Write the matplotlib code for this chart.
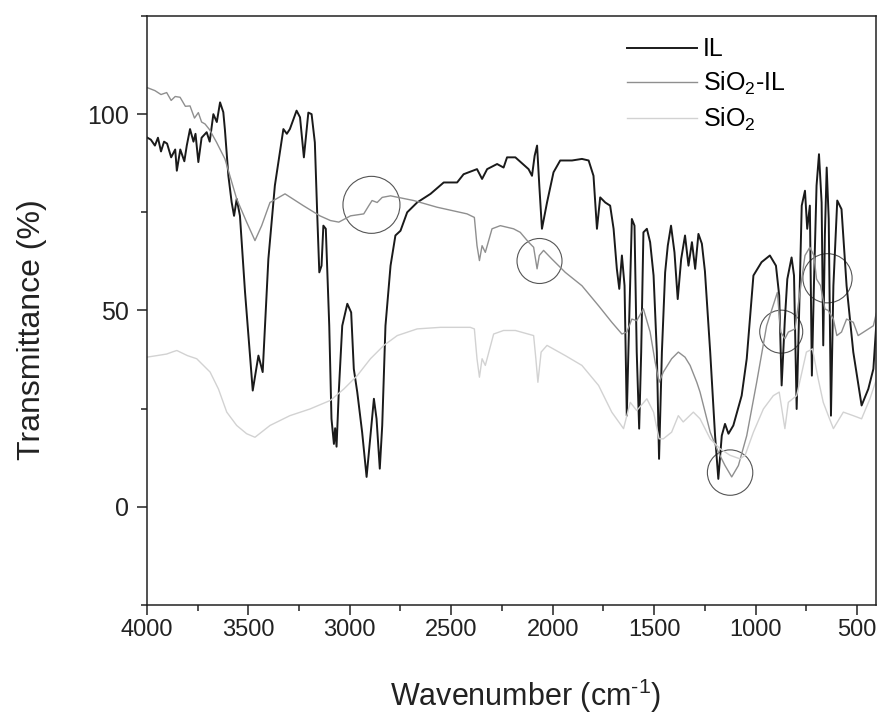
import matplotlib
matplotlib.use('Agg')
import matplotlib.pyplot as plt
from matplotlib.patches import Ellipse
from matplotlib.ticker import MultipleLocator

plt.rcParams['font.family'] = ['Liberation Sans', 'DejaVu Sans']
plt.rcParams['mathtext.fontset'] = 'custom'
plt.rcParams['mathtext.rm'] = 'Liberation Sans'
plt.rcParams['mathtext.it'] = 'Liberation Sans:italic'

# IL spectrum (wavenumber, transmittance)
il_wn = [4000, 3980, 3960, 3945, 3930, 3915, 3900, 3880, 3860, 3852, 3835, 3815, 3803,
         3787, 3770, 3760, 3746, 3730, 3705, 3690, 3672, 3655, 3639, 3623, 3615, 3598,
         3582, 3570, 3557, 3541, 3516, 3478, 3450, 3429, 3401, 3369, 3327, 3310, 3295,
         3262, 3245, 3226, 3204, 3188, 3172, 3160, 3150, 3139, 3130, 3118, 3101, 3090,
         3078, 3072, 3065, 3054, 3037, 3012, 2993, 2980, 2963, 2939, 2917, 2901, 2881,
         2868, 2852, 2840, 2824, 2799, 2775, 2750, 2717, 2668, 2602, 2537, 2471, 2439,
         2373, 2348, 2323, 2274, 2242, 2225, 2184, 2119, 2102, 2089, 2077, 2066, 2053,
         2028, 1996, 1963, 1905, 1856, 1823, 1799, 1782, 1766, 1741, 1717, 1700, 1684,
         1672, 1659, 1646, 1635, 1623, 1610, 1597, 1586, 1574, 1564, 1553, 1536, 1520,
         1503, 1487, 1476, 1462, 1446, 1433, 1417, 1400, 1384, 1367, 1348, 1331, 1314,
         1298, 1282, 1265, 1250, 1224, 1200, 1184, 1167, 1151, 1134, 1110, 1069, 1044,
         1011, 971, 930, 900, 884, 872, 856, 844, 823, 811, 798, 785, 773, 757, 746,
         733, 723, 713, 700, 688, 675, 667, 659, 650, 640, 629, 617, 598, 577, 552,
         519, 478, 445, 420, 404]
il_t = [94.1, 93.5, 92, 94, 90.5, 93, 92.5, 89, 91, 85.6, 91, 88, 92,
        96.2, 93, 95, 87.8, 94, 95.4, 93, 100, 98, 103, 100.5, 96, 84.3,
        77.6, 74.1, 78.4, 74.1, 54.7, 29.6, 38.5, 34.3, 63.1, 81.8, 96.2, 95, 96.2,
        100.9, 99.2, 89, 100.4, 100, 92.8, 74.1, 59.7, 61.4, 71.6, 70.8, 46.1, 22.4,
        16, 20, 15.3, 29.3, 46.1, 51.7, 49.5, 35.1, 29.2, 19, 7.6, 16.5, 27.5,
        22.4, 9.7, 20.7, 46.1, 61.4, 69.1, 70.3, 75, 77.5, 79.7, 82.6, 82.6, 84.7,
        86, 83.5, 86, 87.3, 86.4, 89, 89, 86, 84.3, 89.4, 92, 81.8, 70.8,
        77.5, 85.2, 88.2, 88.2, 88.6, 88.2, 84.3, 70.8, 78.8, 77.5, 76.7, 70.8, 60.6,
        55.5, 64, 56.3, 23.2, 47.8, 73.3, 71.6, 39.4, 19.9, 39.4, 69.9, 70.8, 67.4,
        58.9, 39.4, 12.2, 39.4, 59.7, 66.5, 71.6, 64.8, 52.9, 63.1, 69.1, 61.4, 67.4,
        60.6, 69.5, 67, 60, 39.4, 18.1, 7.1, 18.1, 21.1, 18.6, 20.7, 28.3, 37.7,
        58.9, 62.3, 64, 61.4, 53.8, 30.9, 47.8, 58, 63.5, 58.9, 24.9, 51.2, 76.7, 80.5, 70.8,
        76.7, 33.4, 56.3, 81.8, 89.8, 77.5, 41.1, 69.1, 86.4, 73.3, 23.2, 56.3, 78, 75.8, 56.3,
        39.4, 25.8, 30, 35.1, 47.8]

# SiO2-IL spectrum
sil_wn = [4000, 3960, 3930, 3902, 3880, 3860, 3836, 3810, 3787, 3765, 3746, 3730, 3713,
          3690, 3656, 3615, 3557, 3508, 3467, 3434, 3393, 3319, 3229, 3147, 3095, 3054,
          2996, 2931, 2906, 2890, 2865, 2840, 2799, 2685, 2570, 2422, 2386, 2373, 2361,
          2348, 2332, 2299, 2258, 2193, 2160, 2119, 2094, 2077, 2066, 2045, 2004, 1938,
          1856, 1774, 1709, 1659, 1635, 1610, 1586, 1553, 1520, 1495, 1476, 1455, 1414,
          1381, 1348, 1323, 1290, 1274, 1249, 1224, 1184, 1151, 1118, 1085, 1044, 995,
          946, 893, 877, 856, 839, 806, 782, 757, 733, 713, 700, 680, 659, 643, 617,
          600, 577, 552, 519, 495, 420, 404]
sil_t = [106.8, 106, 105, 105.5, 103.5, 104.5, 104.3, 102, 102.1, 99, 100.4, 98, 97.5,
         96, 92.8, 88.6, 78.4, 72.5, 67.8, 71.6, 77.5, 79.7, 76.7, 74.1, 72.9, 72.5,
         74.1, 74.6, 76.7, 78, 77.5, 78.8, 79.2, 78, 76.3, 74.6, 73.7, 66.5, 62.7,
         66.5, 64.8, 70.8, 71.6, 70.8, 69.9, 67.4, 66.1, 60.6, 64, 65.3, 63.1, 59.7,
         56.3, 51.2, 47, 44, 44.5, 47.8, 47.4, 50.4, 44.5, 36.8, 31.7, 34.3, 37.7,
         39.4, 38.1, 36, 31.7, 29.2, 24.1, 19, 13.9, 10.5, 7.6, 10.5, 18.1, 31.7,
         46.1, 54.6, 44.5, 42.8, 44.5, 45.3, 54.6, 64, 66.1, 64, 58, 56.3, 50.4, 50, 47.8,
         43.6, 44.5, 47.8, 47, 43.6, 46.1, 49.6]

# SiO2 spectrum
si_wn = [4000, 3950, 3902, 3870, 3852, 3800, 3754, 3688, 3647, 3606, 3557, 3508, 3467,
         3393, 3295, 3196, 3095, 3029, 2963, 2898, 2832, 2766, 2668, 2553, 2406, 2386,
         2373, 2361, 2348, 2332, 2291, 2242, 2184, 2094, 2083, 2073, 2057, 2028, 1938,
         1856, 1774, 1709, 1651, 1618, 1586, 1536, 1503, 1476, 1455, 1414, 1381, 1357,
         1307, 1274, 1224, 1176, 1126, 1077, 1052, 1011, 962, 913, 884, 856, 839, 798,
         750, 720, 692, 667, 636, 617, 568, 519, 478, 437, 404]
si_t = [38.1, 38.5, 38.9, 39.5, 39.8, 38.5, 37.7, 34.3, 30, 24.1, 20.7, 18.6, 17.7,
        20.7, 23.2, 24.9, 27.1, 30, 33.4, 37.7, 41.1, 43.6, 45.3, 45.7, 45.7, 45.3,
        37.7, 33, 37.7, 36, 44, 44.9, 44.9, 43.6, 37.7, 31.7, 39.4, 41.1, 38.5,
        36, 30.9, 24.1, 19.9, 26.6, 24.5, 27.5, 24.1, 17.3, 17.3, 19, 23.2, 21.6,
        24.1, 22.4, 17.3, 14.8, 13.1, 12.2, 13.1, 19, 24.9, 28.3, 29.2, 19.9, 26.6, 28.3,
        39.4, 40.2, 32.6, 26.6, 22.4, 19.9, 24.1, 23.2, 22.4, 27.5, 32.6]

labels = ['IL', 'SiO$_\\mathregular{2}$-IL', 'SiO$_\\mathregular{2}$']
colors = ['#1a1a1a', '#8f8f8f', '#d2d2d2']

# highlighted regions: centre (wavenumber, T) and radius in pixels
circle_wn = [2893, 2065, 1126, 874, 646]
circle_t = [76.9, 62.6, 8.7, 44.6, 58.2]
circle_r = [28.5, 22.5, 22.7, 21.5, 24.6]

fig = plt.figure(figsize=(8.79, 7.15), dpi=100)
ax = fig.add_axes([0.167, 0.154, 0.8296, 0.8236])

ax.plot(il_wn, il_t, color=colors[0], lw=1.4, label=labels[0])
ax.plot(sil_wn, sil_t, color=colors[1], lw=1.0, label=labels[1])
ax.plot(si_wn, si_t, color=colors[2], lw=1.0, label=labels[2])

xmin, xmax = 4000, 407
ymin, ymax = -25, 125
ax.set_xlim(xmin, xmax)
ax.set_ylim(ymin, ymax)

# pixels -> data units so the circles stay round
w_px = 0.8296 * 879
h_px = 0.8236 * 715
sx = (xmin - xmax) / w_px
sy = (ymax - ymin) / h_px
for cx, cy, r in zip(circle_wn, circle_t, circle_r):
    ax.add_patch(Ellipse((cx, cy), 2 * r * sx, 2 * r * sy, fill=False,
                         edgecolor='#555555', lw=0.8))

ax.xaxis.set_major_locator(MultipleLocator(500))
ax.xaxis.set_minor_locator(MultipleLocator(250))
ax.yaxis.set_major_locator(MultipleLocator(50))
ax.yaxis.set_minor_locator(MultipleLocator(25))
ax.tick_params(which='both', direction='out', top=False, right=False,
               colors='#222222', width=1.1)
ax.tick_params(axis='x', labelsize=17)
ax.tick_params(axis='y', labelsize=18, pad=6)
ax.tick_params(which='major', length=7)
ax.tick_params(which='minor', length=4)
for s in ax.spines.values():
    s.set_linewidth(1.1)
    s.set_color('#222222')

ax.set_xlabel('Wavenumber (cm$^\\mathregular{\u20101}$)', fontsize=22, color='#222222')
ax.set_ylabel('Transmittance (%)', fontsize=23, color='#222222')
ax.xaxis.set_label_coords(0.52, -0.122)
ax.yaxis.set_label_coords(-0.137, 0.467)

ax.legend(loc='upper left', bbox_to_anchor=(0.641, 0.985), frameon=False,
          fontsize=18, handlelength=2.8, handletextpad=0.25, labelspacing=0.35,
          borderpad=0)

fig.savefig('out.png', dpi=100)
